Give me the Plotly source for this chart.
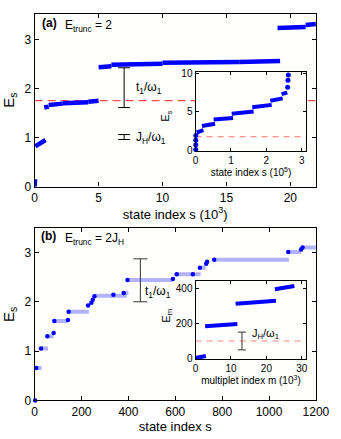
import plotly.graph_objects as go

# panel (a): E_trunc = 2, levels as short sloped segments (s in 10^3)
a_s0 = [0.0, 0.05, 0.75, 1.1, 2.2, 4.2, 5.0, 6.0, 10.0, 16.0, 19.0, 21.2]
a_s1 = [0.03, 0.85, 1.1, 2.2, 4.2, 5.0, 6.0, 10.0, 16.0, 19.2, 21.2, 22.0]
a_e0 = [0.0, 0.82, 1.61, 1.66, 1.70, 1.73, 2.43, 2.48, 2.52, 2.54, 3.23, 3.29]
a_e1 = [0.15, 0.95, 1.63, 1.69, 1.72, 1.75, 2.45, 2.50, 2.54, 2.56, 3.25, 3.31]

# inset (a): s in 10^5
ia_s0 = [0.03, 0.18, 0.51, 1.02, 1.60, 2.11, 2.43]
ia_s1 = [0.22, 0.55, 1.06, 1.64, 2.15, 2.46, 2.59]
ia_e0 = [2.3, 3.15, 4.0, 4.75, 5.6, 6.45, 7.3]
ia_e1 = [2.6, 3.45, 4.2, 5.05, 5.9, 6.75, 7.5]
ia_dot_s = [0.005, 0.005, 0.005, 0.005, 2.60, 2.61, 2.62]
ia_dot_e = [0.1, 0.7, 1.3, 1.9, 8.2, 9.1, 9.8]

# panel (b): E_trunc = 2J_H
b_seg_s0 = [7, 27, 54, 84, 145, 255, 380, 396, 606, 705, 766, 1082, 1143]
b_seg_s1 = [30, 57, 81, 142, 231, 393, 400, 590, 708, 730, 1085, 1137, 1200]
b_seg_e = [0.66, 1.055, 1.30, 1.61, 1.80, 2.12, 2.18, 2.44, 2.56, 2.69, 2.85, 3.01, 3.10]
b_dot_s = [2, 7, 27, 54, 81, 84, 142, 145, 228, 242, 248, 255, 336, 380, 396, 590,
           606, 675, 705, 732, 736, 766, 1082, 1137, 1143]
b_dot_e = [0.0, 0.66, 1.055, 1.30, 1.37, 1.61, 1.63, 1.80, 1.925, 1.98, 2.04, 2.11, 2.14,
           2.18, 2.44, 2.46, 2.56, 2.56, 2.69, 2.77, 2.81, 2.85, 3.01, 3.06, 3.10]

# inset (b): multiplets, m in 10^3
ib_m0 = [0.0, 2.7, 11.3, 22.4]
ib_m1 = [2.9, 11.8, 22.7, 27.9]
ib_e0 = [2, 185, 314, 398]
ib_e1 = [14, 198, 332, 417]

BLUE = "#0000ff"
LIGHT = "rgb(178,178,255)"
FONT = "Liberation Sans, Arial"


def segs(x0, x1, y0, y1):
    xs, ys = [], []
    for a, b, c, d in zip(x0, x1, y0, y1):
        xs += [a, b, None]
        ys += [c, d, None]
    return xs, ys


fig = go.Figure()

# (a) main
x, y = segs(a_s0, a_s1, a_e0, a_e1)
fig.add_trace(go.Scatter(x=[0, 22], y=[1.75, 1.75], mode="lines",
                         line=dict(color="#ff2020", width=1, dash="8px,5px"), xaxis="x", yaxis="y"))
fig.add_trace(go.Scatter(x=x, y=y, mode="lines", line=dict(color=BLUE, width=4.5),
                         cliponaxis=False, xaxis="x", yaxis="y"))
fig.add_trace(go.Scatter(x=[7, 7], y=[2.015, 1.01], mode="markers", marker=dict(size=1, color="rgba(0,0,0,0)"),
                         error_y=dict(type="data", array=[0.405, 0.05], color="black", thickness=1, width=6),
                         xaxis="x", yaxis="y"))

# (a) inset
x, y = segs(ia_s0, ia_s1, ia_e0, ia_e1)
fig.add_trace(go.Scatter(x=[0, 3.13], y=[1.75, 1.75], mode="lines",
                         line=dict(color="#ff7070", width=1, dash="6px,5px"), xaxis="x2", yaxis="y2"))
fig.add_trace(go.Scatter(x=x, y=y, mode="lines", line=dict(color=BLUE, width=4),
                         xaxis="x2", yaxis="y2"))
fig.add_trace(go.Scatter(x=ia_dot_s, y=ia_dot_e, mode="markers", marker=dict(color=BLUE, size=5),
                         cliponaxis=False, xaxis="x2", yaxis="y2"))

# (b) main
x, y = segs(b_seg_s0, b_seg_s1, b_seg_e, b_seg_e)
fig.add_trace(go.Scatter(x=x, y=y, mode="lines", line=dict(color=LIGHT, width=4),
                         xaxis="x3", yaxis="y3"))
fig.add_trace(go.Scatter(x=b_dot_s, y=b_dot_e, mode="markers", marker=dict(color=BLUE, size=4.5),
                         cliponaxis=False, xaxis="x3", yaxis="y3"))
fig.add_trace(go.Scatter(x=[451], y=[2.435], mode="markers", marker=dict(size=1, color="rgba(0,0,0,0)"),
                         error_y=dict(type="data", array=[0.435], color="#333333", thickness=1, width=7),
                         xaxis="x3", yaxis="y3"))

# (b) inset
x, y = segs(ib_m0, ib_m1, ib_e0, ib_e1)
fig.add_trace(go.Scatter(x=[0, 31.3], y=[100, 100], mode="lines",
                         line=dict(color="#ff8080", width=1, dash="6px,5px"), xaxis="x4", yaxis="y4"))
fig.add_trace(go.Scatter(x=x, y=y, mode="lines", line=dict(color=BLUE, width=4),
                         cliponaxis=False, xaxis="x4", yaxis="y4"))
fig.add_trace(go.Scatter(x=[13.1], y=[100], mode="markers", marker=dict(size=1, color="rgba(0,0,0,0)"),
                         error_y=dict(type="data", array=[51], color="#333333", thickness=1, width=4),
                         xaxis="x4", yaxis="y4"))

ax = dict(showgrid=False, zeroline=False, showline=True, linecolor="black", linewidth=1.3,
          mirror="ticks", ticks="inside", ticklen=4, tickcolor="black", ticklabeloverflow="allow",
          tickfont=dict(size=12, color="black"))
ins = dict(ax, ticklen=3, linewidth=1.2, tickfont=dict(size=10, color="black"))

fig.update_layout(
    width=341, height=439, showlegend=False,
    margin=dict(l=0, r=0, t=0, b=0),
    # plot bg slightly off paper colour so the insets get their own opaque background
    paper_bgcolor="white", plot_bgcolor="#fffffe",
    font=dict(family=FONT, color="black"),
    xaxis=dict(ax, domain=[0.0977, 0.9657], range=[0, 22], dtick=5, anchor="y",
               title=dict(text="state index s (10<sup>3</sup>)", font=dict(size=13), standoff=2)),
    yaxis=dict(ax, domain=[0.5733, 0.9772], range=[0, 3.52], dtick=1, anchor="x",
               title=dict(text="E<sub>s</sub>", font=dict(size=15), standoff=6)),
    xaxis2=dict(ins, domain=[0.5944, 0.9364], range=[0, 3.13], dtick=1, anchor="y2",
                title=dict(text="state index s (10<sup>5</sup>)", font=dict(size=10), standoff=2)),
    yaxis2=dict(ins, domain=[0.6567, 0.8405], range=[-0.1, 10.15], dtick=5, anchor="x2"),
    xaxis3=dict(ax, domain=[0.0977, 0.9657], range=[0, 1200], dtick=200, anchor="y3",
                title=dict(text="state index s", font=dict(size=13), standoff=2)),
    yaxis3=dict(ax, domain=[0.0736, 0.4761], range=[0, 3.49], dtick=1, anchor="x3",
                title=dict(text="E<sub>s</sub>", font=dict(size=15), standoff=6)),
    xaxis4=dict(ins, domain=[0.5944, 0.9364], range=[0, 31.3], dtick=10, anchor="y4",
                title=dict(text="multiplet index m (10<sup>3</sup>)", font=dict(size=10), standoff=2)),
    yaxis4=dict(ins, domain=[0.1708, 0.3531], range=[-3, 446], dtick=200, anchor="x4"),
)

notes = [
    ("x", "y", 0.4, 3.33, "<b>(a)</b>", 12),
    ("x", "y", 2.2, 3.28, "E<sub>trunc</sub> = 2", 12),
    ("x", "y", 7.8, 2.0, "t<sub>1</sub>/ω<sub>1</sub>", 12),
    ("x", "y", 7.8, 1.0, "J<sub>H</sub>/ω<sub>1</sub>", 12),
    ("x3", "y3", 18, 3.33, "<b>(b)</b>", 12),
    ("x3", "y3", 121, 3.28, "E<sub>trunc</sub> = 2J<sub>H</sub>", 12),
    ("x3", "y3", 461, 2.2, "t<sub>1</sub>/ω<sub>1</sub>", 12),
    ("x4", "y4", 15.4, 138, "J<sub>H</sub>/ω<sub>1</sub>", 11),
]
for xr, yr, xv, yv, txt, sz in notes:
    fig.add_annotation(x=xv, y=yv, xref=xr, yref=yr, text=txt, showarrow=False,
                       xanchor="left", yanchor="middle", font=dict(size=sz, color="black"))

# inset y titles, placed by hand left of the inset tick labels
for yv, txt in [(0.738, "E<sub>s</sub>"), (0.271, "E<sub>m</sub>")]:
    fig.add_annotation(x=0.505, y=yv, xref="paper", yref="paper", text=txt, showarrow=False,
                       textangle=-90, xanchor="center", yanchor="middle",
                       font=dict(size=11, color="black"))

# drop the browser's default 8px body margin so the figure sits at the window corner
fig.write_html("out.html", config={"displayModeBar": False},
               post_script="document.body.style.margin = '0';")
